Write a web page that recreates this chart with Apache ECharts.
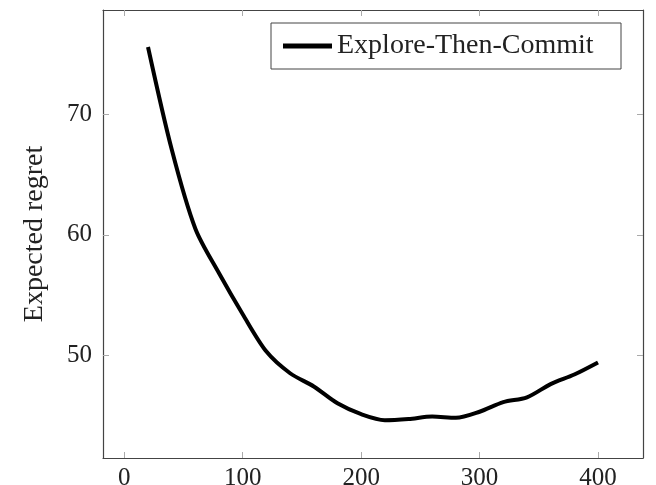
<!DOCTYPE html>
<html>
<head>
<meta charset="utf-8">
<script src="https://cdn.jsdelivr.net/npm/echarts@6/dist/echarts.min.js"></script>
<style>
  html, body { margin: 0; padding: 0; background: #fff; }
  #chart { width: 656px; height: 485px; }
</style>
</head>
<body>
<div id="chart"></div>
<script>
// rounds (x) and expected regret (y)
var rounds = [20, 40, 60, 80, 100, 120, 140, 160, 180, 200, 220, 240, 260, 280, 300, 320, 340, 360, 380, 400]
var regret = [75.6, 67.1, 60.5, 56.8, 53.4, 50.3, 48.5, 47.4, 46.0, 45.1, 44.6, 44.7, 44.9, 44.8, 45.3, 46.1, 46.5, 47.6, 48.4, 49.4]
var xTicks = [0, 100, 200, 300, 400]
var yTicks = [50, 60, 70]
var seriesName = 'Explore-Then-Commit'

var font = '"Liberation Serif", "DejaVu Serif", serif'
var frameColor = '#444'
var tickColor = '#aaa'

function makeX(pos, labels) {
  return {
    type: 'value',
    position: pos,
    min: -18,
    max: 438,
    splitLine: { show: false },
    axisLine: { show: true, onZero: false, lineStyle: { color: frameColor, width: 1.2 } },
    axisTick: { show: true, inside: true, length: 6, customValues: xTicks, lineStyle: { color: tickColor } },
    axisLabel: {
      show: labels,
      customValues: xTicks,
      margin: 8,
      color: '#222',
      fontFamily: font,
      fontSize: 25
    }
  }
}

function makeY(pos, labels) {
  return {
    type: 'value',
    position: pos,
    min: 41.46,
    max: 78.67,
    name: labels ? 'Expected regret' : '',
    nameLocation: 'middle',
    nameGap: 54,
    nameTextStyle: { color: '#222', fontFamily: font, fontSize: 28 },
    splitLine: { show: false },
    axisLine: { show: true, onZero: false, lineStyle: { color: frameColor, width: 1.2 } },
    axisTick: { show: true, inside: true, length: 6, customValues: yTicks, lineStyle: { color: tickColor } },
    axisLabel: {
      show: labels,
      customValues: yTicks,
      margin: 11,
      color: '#222',
      fontFamily: font,
      fontSize: 25
    }
  }
}

var chart = echarts.init(document.getElementById('chart'))

chart.setOption({
  animation: false,
  backgroundColor: '#fff',
  grid: { left: 103, right: 13, top: 10, bottom: 27, outerBoundsMode: 'none' },
  legend: {
    data: [seriesName],
    left: 271,
    top: 23,
    orient: 'vertical',
    padding: [8, 26, 8, 12],
    borderColor: frameColor,
    borderWidth: 1,
    itemWidth: 49,
    itemHeight: 5,
    icon: 'rect',
    textStyle: { color: '#222', fontFamily: font, fontSize: 28, width: 258, lineHeight: 30 }
  },
  xAxis: [makeX('bottom', true), makeX('top', false)],
  yAxis: [makeY('left', true), makeY('right', false)],
  series: [{
    name: seriesName,
    type: 'line',
    data: rounds.map(function (x, i) { return [x, regret[i]] }),
    smooth: 0.3,
    showSymbol: false,
    itemStyle: { color: '#000' },
    lineStyle: { color: '#000', width: 4 }
  }]
})
</script>
</body>
</html>
